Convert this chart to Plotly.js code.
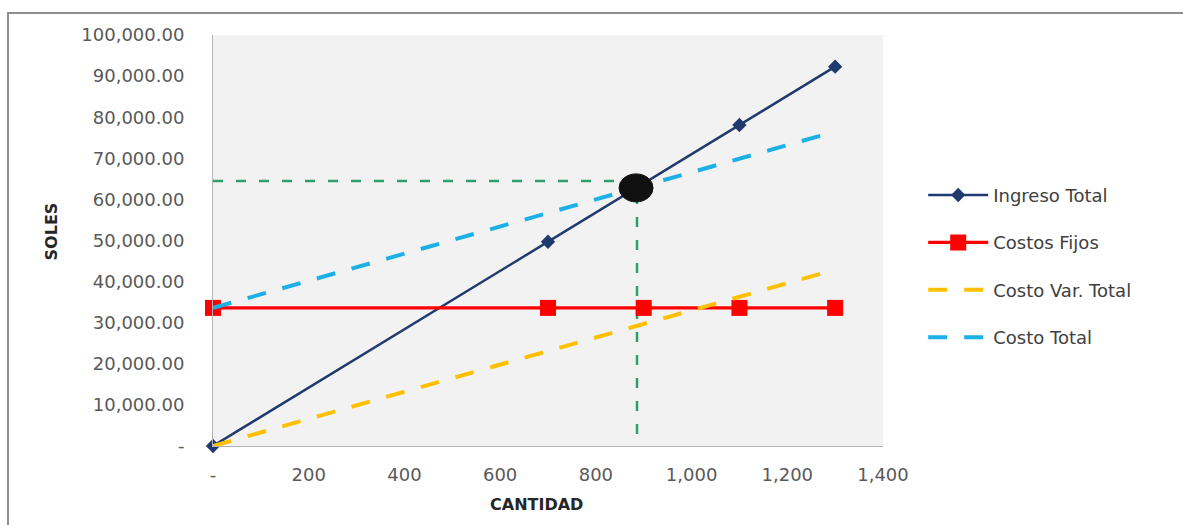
<!DOCTYPE html>
<html>
<head>
<meta charset="utf-8">
<script src="https://cdn.plot.ly/plotly-3.0.1.min.js"></script>
<style>
  html, body { margin: 0; padding: 0; background: #ffffff; overflow: hidden; }
  #frame { position: absolute; left: 7px; top: 12px; width: 1190px; height: 520px;
           border-left: 2px solid #8f8f8f; border-top: 2px solid #8f8f8f; }
  #chart { width: 1190px; height: 520px; }
</style>
</head>
<body>
<div id="frame"><div id="chart"></div></div>
<script>
// Punto de equilibrio: cantidades y montos en soles
const cantidad = [0, 700, 900, 1100, 1300];
const ingresoTotal = [0, 49700, 63900, 78100, 92300];
const costosFijos = [33600, 33600, 33600, 33600, 33600];
const costoVarTotal = [0, 23100, 29700, 36300, 42900];
const costoTotal = [33600, 56700, 63300, 69900, 76500];

// Punto de equilibrio y líneas guía
const equilibrioCantidad = 884;
const equilibrioSoles = 62800;
const guiaCantidad = [0, 886, 886];
const guiaSoles = [64500, 64500, 0];

// Etiquetas de los ejes
const yTickVals = [0, 10000, 20000, 30000, 40000, 50000, 60000, 70000, 80000, 90000, 100000];
const yTickText = ['-', '10,000.00', '20,000.00', '30,000.00', '40,000.00', '50,000.00',
                   '60,000.00', '70,000.00', '80,000.00', '90,000.00', '100,000.00'];
const xTickVals = [0, 200, 400, 600, 800, 1000, 1200, 1400];
const xTickText = ['-', '200', '400', '600', '800', '1,000', '1,200', '1,400'];
const tituloX = 'CANTIDAD';
const tituloY = 'SOLES';

const FONT = '"DejaVu Sans", Verdana, sans-serif';

const traces = [
  {
    x: guiaCantidad, y: guiaSoles, mode: 'lines', showlegend: false, hoverinfo: 'skip',
    line: { color: '#2f9e6e', width: 2.5, dash: '10px,13px' }
  },
  {
    name: 'Ingreso Total', legendgroup: 'a', x: cantidad, y: ingresoTotal, mode: 'lines+markers',
    line: { color: '#1f3a6e', width: 2.5 },
    marker: { symbol: 'diamond', size: 11, color: '#1f3a6e' }, cliponaxis: false
  },
  {
    name: 'Costos Fijos', legendgroup: 'b', x: cantidad, y: costosFijos, mode: 'lines+markers',
    line: { color: '#ff0000', width: 3.2 },
    marker: { symbol: 'square', size: 16, color: '#ff0000' }, cliponaxis: false
  },
  {
    name: 'Costo Var. Total', legendgroup: 'c', x: cantidad, y: costoVarTotal, mode: 'lines',
    line: { color: '#ffc000', width: 4, dash: '19px,17px' }, cliponaxis: false
  },
  {
    name: 'Costo Total', legendgroup: 'd', x: cantidad, y: costoTotal, mode: 'lines',
    line: { color: '#1cb0e6', width: 4, dash: '19px,17px' }, cliponaxis: false
  }
];

const layout = {
  width: 1190, height: 520,
  margin: { l: 204, t: 21, r: 316, b: 88 },
  paper_bgcolor: '#ffffff',
  plot_bgcolor: '#f2f2f2',
  font: { family: FONT, color: '#595959' },
  showlegend: true,
  legend: {
    x: 1.06, xanchor: 'left', y: 0.655, yanchor: 'top',
    traceorder: 'grouped', tracegroupgap: 21, itemwidth: 60,
    font: { family: FONT, size: 18, color: '#404040' },
    bgcolor: 'rgba(0,0,0,0)'
  },
  xaxis: {
    range: [0, 1400], tickvals: xTickVals, ticktext: xTickText,
    showgrid: false, zeroline: false, showline: true, linecolor: '#b3b3b3', linewidth: 1,
    ticks: '', ticklabelstandoff: 12,
    tickfont: { family: FONT, size: 18, color: '#595959' }
  },
  yaxis: {
    range: [0, 100000], tickvals: yTickVals, ticktext: yTickText,
    showgrid: false, zeroline: false, showline: true, linecolor: '#b3b3b3', linewidth: 1,
    ticks: '', ticklabelstandoff: 24,
    tickfont: { family: FONT, size: 18, color: '#595959' }
  },
  annotations: [
    {
      text: tituloX, xref: 'paper', yref: 'paper', x: 0.483, y: -0.143,
      xanchor: 'center', yanchor: 'middle', showarrow: false,
      font: { family: FONT, size: 16, color: '#262626', weight: 'bold' }
    },
    {
      text: tituloY, xref: 'paper', yref: 'paper', x: -0.241, y: 0.521, textangle: -90,
      xanchor: 'center', yanchor: 'middle', showarrow: false,
      font: { family: FONT, size: 16, color: '#262626', weight: 'bold' }
    }
  ],
  shapes: [
    {
      type: 'circle', xref: 'x', yref: 'y', layer: 'above',
      xsizemode: 'pixel', ysizemode: 'pixel',
      xanchor: equilibrioCantidad, yanchor: equilibrioSoles,
      x0: -17, x1: 17, y0: -14, y1: 14,
      fillcolor: '#111111', line: { color: '#111111', width: 1 }
    }
  ]
};

Plotly.newPlot('chart', traces, layout, { displayModeBar: false, staticPlot: true });
</script>
</body>
</html>
